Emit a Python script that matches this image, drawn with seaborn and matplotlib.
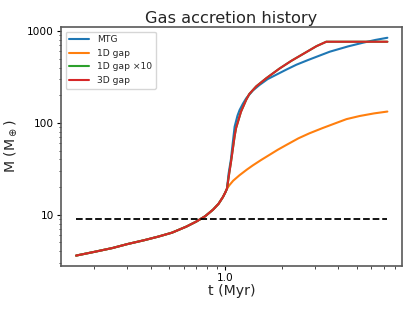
import pandas as pd
import seaborn as sns
import matplotlib
matplotlib.use('Agg')
import matplotlib.pyplot as plt
from matplotlib.ticker import FormatStrFormatter, NullFormatter, LogLocator

# shared early growth (all models identical before the gap opens)
t_early = [0.16, 0.20, 0.25, 0.30, 0.37, 0.44, 0.52, 0.62, 0.70, 0.78, 0.86, 0.92, 0.97, 1.00, 1.02]
m_early = [3.6, 3.95, 4.35, 4.8, 5.3, 5.8, 6.4, 7.45, 8.45, 9.65, 11.4, 13.2, 15.6, 17.6, 19.3]

# MTG
t_mtg = [1.04, 1.07, 1.094, 1.12, 1.16, 1.19, 1.24, 1.29, 1.40, 1.52, 1.68, 2.11, 2.39, 2.76, 3.6, 4.5, 5.42, 6.3, 7.3]
m_mtg = [28, 40, 60, 91, 120, 138, 162, 185, 225, 259, 300, 380, 430, 484, 596, 680, 747, 800, 845]

# 1D gap
t_1d = [1.05, 1.10, 1.19, 1.30, 1.40, 1.55, 1.72, 1.90, 2.11, 2.45, 2.8, 3.3, 3.9, 4.42, 5.2, 6.2, 7.3]
m_1d = [21.0, 23.5, 27, 31, 34.5, 39.5, 45, 51, 57.5, 68, 77, 88, 100, 110, 119, 127, 133]

# 3D gap (1D gap x10 lies underneath it)
t_3d = [1.05, 1.07, 1.094, 1.12, 1.14, 1.21, 1.29, 1.34, 1.46, 1.65, 1.94, 2.25, 2.70, 3.06, 3.45, 7.3]
m_3d = [29, 37, 51, 72, 88, 132, 178, 206, 250, 306, 390, 475, 590, 685, 765, 765]
t_1d10 = t_3d
m_1d10 = m_3d

m_iso = 9.0  # dashed reference level

labels = ['MTG', '1D gap', '1D gap ×10', '3D gap']
colors = ['#1f77b4', '#ff7f0e', '#2ca02c', '#d62728']
series = [(t_mtg, m_mtg), (t_1d, m_1d), (t_1d10, m_1d10), (t_3d, m_3d)]

sns.set_style('ticks')
plt.rcParams['font.family'] = ['DejaVu Sans']

fig = plt.figure(figsize=(4.15, 3.11), dpi=100)
ax = fig.add_axes([0.147, 0.145, 0.822, 0.768])

for lab, col, (ts, ms) in zip(labels, colors, series):
    df = pd.DataFrame({'t': t_early + ts, 'M': m_early + ms})
    sns.lineplot(data=df, x='t', y='M', ax=ax, color=col, lw=1.5, label=lab,
                 estimator=None, sort=False)

t_all = t_early + t_mtg
ax.plot([min(t_all), max(t_all)], [m_iso, m_iso], color='black', ls='--', lw=1.3)

ax.set_xscale('log')
ax.set_yscale('log')
ax.set_xlim(0.133, 8.75)
ax.set_ylim(2.78, 1105)

ax.xaxis.set_major_formatter(FormatStrFormatter('%.1f'))
ax.xaxis.set_minor_formatter(NullFormatter())
ax.yaxis.set_major_formatter(FormatStrFormatter('%d'))
ax.yaxis.set_minor_formatter(NullFormatter())
ax.yaxis.set_minor_locator(LogLocator(base=10, subs=range(2, 10)))

ax.tick_params(which='major', length=3, width=0.8, labelsize=7.6, colors='black', pad=2)
ax.tick_params(which='minor', length=1.8, width=0.6)
for sp in ax.spines.values():
    sp.set_color('0.35')
    sp.set_linewidth(1.2)

ax.set_xlabel('t (Myr)', fontsize=10.2, labelpad=1)
ax.set_ylabel(r'M (M$_\oplus$)', fontsize=10.2, labelpad=6)
ax.set_title('Gas accretion history', fontsize=11.7, pad=3)
ax.legend(loc='upper left', fontsize=6.6, frameon=True, handlelength=2.2)

fig.savefig('out.png', dpi=100)
